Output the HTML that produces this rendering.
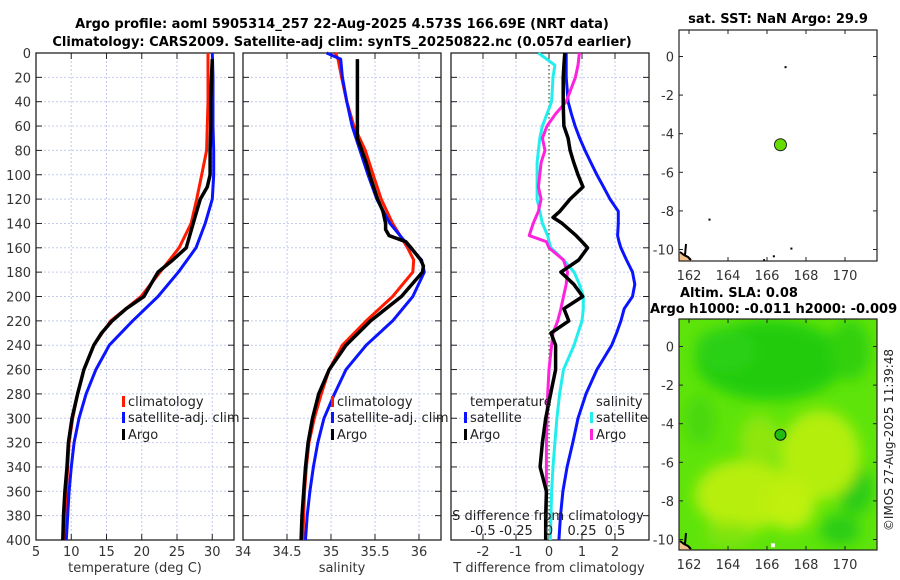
<!DOCTYPE html>
<html><head><meta charset="utf-8"><style>
html,body{margin:0;padding:0;background:#fff;}
svg{display:block;font-family:"DejaVu Sans","Liberation Sans",sans-serif;}
</style></head><body>
<svg id="chart" width="900" height="580" viewBox="0 0 900 580" xmlns="http://www.w3.org/2000/svg">
<defs>
<filter id="blur" x="-20%" y="-20%" width="140%" height="140%"><feGaussianBlur stdDeviation="7"/></filter>
<clipPath id="map2clip"><rect x="679" y="319" width="198" height="231"/></clipPath>
</defs>
<text x="342" y="28" text-anchor="middle" font-size="13" font-weight="bold">Argo profile: aoml 5905314_257 22-Aug-2025 4.573S 166.69E (NRT data)</text>
<text x="342" y="46" text-anchor="middle" font-size="13" font-weight="bold">Climatology: CARS2009. Satellite-adj clim: synTS_20250822.nc (0.057d earlier)</text>
<g id="p1"></g>
<g id="p2"></g>
<g id="p3"></g>
<g id="m1"></g>
<g id="m2"></g>
<text transform="translate(893,440) rotate(-90)" text-anchor="middle" font-size="12" fill="#222">©IMOS 27-Aug-2025 11:39:48</text>
</svg>
<script>
// ---- data ----
const tempDepths = [0,20,40,60,80,100,120,140,160,180,200,220,240,260,280,300,320,340,360,380,400];
const tempClim   = [29.4,29.4,29.4,29.3,29.2,28.5,27.8,27.0,25.3,22.6,19.9,15.6,13.2,11.8,10.9,10.2,9.7,9.5,9.3,9.2,9.1];
const tempSat    = [30.0,30.1,30.1,30.1,30.2,30.2,30.0,29.0,27.7,25.2,22.3,18.7,15.4,13.5,12.1,11.1,10.4,10.0,9.7,9.5,9.3];
const argoDepths = [5,20,40,60,80,100,110,120,130,140,150,160,170,180,190,200,210,220,230,240,260,280,300,320,340,360,380,400];
const tempArgo   = [30.0,29.9,29.8,29.8,29.7,29.7,29.3,28.3,27.8,27.3,26.8,26.3,24.4,22.3,21.3,20.3,17.8,15.8,14.3,13.2,11.8,10.9,10.1,9.6,9.4,9.1,8.9,8.8];
const salDepths  = [0,5,20,40,60,80,100,120,140,160,170,180,200,220,240,260,280,300,320,340,360,380,400];
const salClim    = [35.05,35.08,35.12,35.18,35.26,35.39,35.48,35.57,35.70,35.87,35.94,35.93,35.70,35.40,35.13,34.98,34.89,34.81,34.75,34.72,34.70,34.69,34.68];
const salSat     = [34.95,35.11,35.13,35.18,35.24,35.33,35.42,35.52,35.67,35.90,36.03,36.06,35.93,35.70,35.40,35.17,35.04,34.92,34.85,34.80,34.76,34.73,34.71];
const salArgoDepths = [5,20,40,60,70,80,90,100,120,130,140,145,150,155,160,170,175,180,200,220,240,260,280,300,320,340,360,380,400];
const salArgo    = [35.30,35.30,35.30,35.30,35.30,35.35,35.40,35.44,35.53,35.59,35.62,35.62,35.66,35.85,35.91,36.02,36.05,36.04,35.80,35.45,35.17,34.98,34.86,34.79,34.74,34.71,34.69,34.67,34.66];
const dDepths    = [0,10,20,40,50,60,70,80,90,100,110,120,130,135,140,150,155,160,170,180,190,200,210,220,230,240,260,280,300,320,340,360,380,400];
const dTsat      = [0.52,0.52,0.52,0.58,0.68,0.79,0.93,1.09,1.27,1.45,1.65,1.85,2.1,2.1,2.1,2.08,2.12,2.18,2.35,2.53,2.6,2.53,2.28,2.18,2.05,1.9,1.45,1.12,0.88,0.72,0.55,0.42,0.35,0.3];
const dTargo     = [0.48,0.45,0.43,0.43,0.44,0.45,0.58,0.64,0.75,0.88,1.03,0.64,0.33,0.12,0.4,0.82,1.0,1.17,0.9,0.36,0.75,1.02,0.45,0.6,0.06,0.2,0.2,0.05,-0.1,-0.2,-0.27,-0.08,-0.1,-0.1];
const dSsat      = [-0.08,0.045,0.03,0.02,-0.015,-0.05,-0.07,-0.08,-0.09,-0.09,-0.09,-0.09,-0.07,-0.06,-0.05,-0.01,0.0,0.015,0.11,0.19,0.23,0.26,0.26,0.25,0.22,0.19,0.11,0.08,0.06,0.045,0.03,0.02,0.015,0.01];
const dSargo     = [0.23,0.22,0.2,0.13,0.05,-0.015,-0.05,-0.03,-0.06,-0.07,-0.08,-0.06,-0.08,-0.1,-0.12,-0.15,-0.02,0.0,0.11,0.14,0.13,0.11,0.09,0.066,0.03,0.02,0.0,-0.01,-0.015,-0.02,-0.02,-0.02,-0.02,-0.025];
const depthTicks = [0,20,40,60,80,100,120,140,160,180,200,220,240,260,280,300,320,340,360,380,400];
const tempTicks  = [5,10,15,20,25,30];
const salTicks   = [34,34.5,35,35.5,36];
const salTickLabels = ["34","34.5","35","35.5","36"];
const dTTicks    = [-2,-1,0,1,2];
const dSTicks    = [-0.5,-0.25,0,0.25,0.5];
const dSTickLabels = ["-0.5","-0.25","0","0.25","0.5"];
const lonTicks   = [162,164,166,168,170];
const latTicks   = [0,-2,-4,-6,-8,-10];
const argoLon = 166.69, argoLat = -4.573;

// ---- helpers ----
const NS = "http://www.w3.org/2000/svg";
function mk(parent, tag, attrs, text){
  const e = document.createElementNS(NS, tag);
  for (const k in attrs) e.setAttribute(k, attrs[k]);
  if (text !== undefined) e.textContent = text;
  parent.appendChild(e); return e;
}
const PT = 53, PB = 540;
const yD = d => PT + d * (PB - PT) / 400;
const xT = v => 36 + (v - 5) * 7.05;
const xS = v => 243 + (v - 34) * 88;
const xDT = v => 549 + v * 33;
const xDS = v => 549 + v * 132;

function frame(g, x0, x1, xTickVals, xf, labels, yLabels){
  const grid = mk(g,'g',{});
  
  
  depthTicks.forEach(d=>{
    mk(grid,'line',{x1:x0,x2:x1,y1:yD(d),y2:yD(d),stroke:'#c4cbef','stroke-width':1,'stroke-dasharray':'2,2'});
  });
  xTickVals.forEach(v=>{
    mk(grid,'line',{x1:xf(v),x2:xf(v),y1:PT,y2:PB,stroke:'#c4cbef','stroke-width':1,'stroke-dasharray':'2,2'});
  });
  depthTicks.forEach(d=>{
    mk(g,'line',{x1:x0,x2:x0+6,y1:yD(d),y2:yD(d),stroke:'#222'});
    mk(g,'line',{x1:x1-6,x2:x1,y1:yD(d),y2:yD(d),stroke:'#222'});
    if (yLabels){
      const t = mk(g,'text',{x:x0-5,y:yD(d)+5,'text-anchor':'end','font-size':13,fill:'#333'}, String(d));
      
      
    }
  });
  xTickVals.forEach((v,i)=>{
    mk(g,'line',{x1:xf(v),x2:xf(v),y1:PB,y2:PB-6,stroke:'#222'});
    mk(g,'line',{x1:xf(v),x2:xf(v),y1:PT,y2:PT+6,stroke:'#222'});
    if (labels){
      const t = mk(g,'text',{x:xf(v),y:556,'text-anchor':'middle','font-size':13,fill:'#333'}, labels[i]);
      
      
    }
  });
  const r = mk(g,'rect',{x:x0,y:PT,width:x1-x0,height:PB-PT,fill:'none',stroke:'#222','stroke-width':1.3});
  
  
}
function line(g, depths, vals, xf, color, w, name){
  const pts = depths.map((d,i)=> xf(vals[i]).toFixed(1)+','+yD(d).toFixed(1)).join(' ');
  const p = mk(g,'polyline',{points:pts,fill:'none',stroke:color,'stroke-width':w,'stroke-linejoin':'round'});
  
  
}
function legend(g, x, y, color, label){
  mk(g,'rect',{x:x-6,y:y-10,width:3,height:11,fill:color});
  const t = mk(g,'text',{x:x,y:y,'font-size':13,fill:'#222'}, label);
  
  
}

// ---- panel 1 ----
const p1 = document.getElementById('p1');
frame(p1, 36, 234, tempTicks, xT, tempTicks.map(String), true);
line(p1, tempDepths, tempClim, xT, '#ff1a00', 3, 'temp-climatology-line');
line(p1, tempDepths, tempSat, xT, '#0a14ff', 3, 'temp-satellite-line');
line(p1, argoDepths, tempArgo, xT, '#000', 3.5, 'temp-argo-line');
legend(p1, 128, 406, '#ff1a00', 'climatology');
legend(p1, 128, 422, '#0a14ff', 'satellite-adj. clim');
legend(p1, 128, 439, '#000', 'Argo');
let t = mk(p1,'text',{x:135,y:572,'text-anchor':'middle','font-size':13,fill:'#333'},'temperature (deg C)');
 

// ---- panel 2 ----
const p2 = document.getElementById('p2');
frame(p2, 243, 441, salTicks, xS, salTickLabels, false);
line(p2, salDepths, salClim, xS, '#ff1a00', 3, 'sal-climatology-line');
line(p2, salDepths, salSat, xS, '#0a14ff', 3, 'sal-satellite-line');
line(p2, salArgoDepths, salArgo, xS, '#000', 3.5, 'sal-argo-line');
legend(p2, 337, 406, '#ff1a00', 'climatology');
legend(p2, 337, 422, '#0a14ff', 'satellite-adj. clim');
legend(p2, 337, 439, '#000', 'Argo');
t = mk(p2,'text',{x:342,y:572,'text-anchor':'middle','font-size':13,fill:'#333'},'salinity');
 

// ---- panel 3 ----
const p3 = document.getElementById('p3');
frame(p3, 451, 649, dTTicks, xDT, dTTicks.map(String), false);
const zl = mk(p3,'line',{x1:549,x2:549,y1:PT,y2:PB,stroke:'#445522','stroke-width':1.2,'stroke-dasharray':'1.5,2.5'});
 
line(p3, dDepths, dTsat, xDT, '#0a14ff', 3, 'dT-satellite-line');
line(p3, dDepths, dSsat, xDS, '#22eeee', 3, 'dS-satellite-line');
line(p3, dDepths, dSargo, xDS, '#ff22dd', 3, 'dS-argo-line');
line(p3, dDepths, dTargo, xDT, '#000', 3.5, 'dT-argo-line');
t = mk(p3,'text',{x:470,y:406,'font-size':13,fill:'#222'},'temperature');
 
legend(p3, 470, 422, '#0a14ff', 'satellite');
legend(p3, 470, 439, '#000', 'Argo');
t = mk(p3,'text',{x:596,y:406,'font-size':13,fill:'#222'},'salinity');
 
legend(p3, 596, 422, '#22eeee', 'satellite');
legend(p3, 596, 439, '#ff22dd', 'Argo');
t = mk(p3,'text',{x:548,y:520,'text-anchor':'middle','font-size':13,fill:'#222'},'S difference from climatology');
 
dSTicks.forEach((v,i)=>{
  const e = mk(p3,'text',{x:xDS(v),y:535,'text-anchor':'middle','font-size':13,fill:'#222'}, dSTickLabels[i]);
  
  
});
t = mk(p3,'text',{x:549,y:572,'text-anchor':'middle','font-size':13,fill:'#333'},'T difference from climatology');
 

// ---- maps ----
function mapAxes(g, top, bottom, lat0y){
  const xL = v => 689 + (v-162)*19.5;
  const yL = v => lat0y - v*19.3;
  lonTicks.forEach(v=>{
    mk(g,'line',{x1:xL(v),x2:xL(v),y1:bottom,y2:bottom-4,stroke:'#222'});
    mk(g,'line',{x1:xL(v),x2:xL(v),y1:top,y2:top+4,stroke:'#222'});
    const e = mk(g,'text',{x:xL(v),y:bottom+19,'text-anchor':'middle','font-size':13,fill:'#333'}, String(v));
    
    
  });
  latTicks.forEach(v=>{
    mk(g,'line',{x1:679,x2:683,y1:yL(v),y2:yL(v),stroke:'#222'});
    mk(g,'line',{x1:873,x2:877,y1:yL(v),y2:yL(v),stroke:'#222'});
    const e = mk(g,'text',{x:674,y:yL(v)+5,'text-anchor':'end','font-size':13,fill:'#333'}, String(v));
    
    
  });
  return [xL, yL];
}
function coast(g, bottom){
  mk(g,'path',{d:`M679 ${bottom-8} L686 ${bottom-5} L690 ${bottom} L679 ${bottom} Z`,fill:'#f2c08a'});
  mk(g,'path',{d:`M680 ${bottom-9} L684 ${bottom-6} L688 ${bottom-4} L691 ${bottom-1} M685 ${bottom-6} L686 ${bottom-17}`,stroke:'#000','stroke-width':2,fill:'none'});
}
const m1 = document.getElementById('m1');
t = mk(m1,'text',{x:778,y:23,'text-anchor':'middle','font-size':13,'font-weight':'bold'},'sat. SST: NaN Argo: 29.9');
 
mk(m1,'rect',{x:679,y:30,width:198,height:231,fill:'#fff'});
let ax = mapAxes(m1, 30, 261, 56.5);
coast(m1, 261);
[[166.9,-0.5],[163,-8.4],[167.2,-9.9],[166.3,-10.3],[165.8,-10.5]].forEach(p=>mk(m1,'rect',{x:ax[0](p[0]),y:ax[1](p[1]),width:2,height:2,fill:'#000'}));
let dot = mk(m1,'circle',{cx:ax[0](argoLon),cy:ax[1](argoLat),r:6,fill:'#66dd00',stroke:'#222','stroke-width':1});
 
mk(m1,'rect',{x:679,y:30,width:198,height:231,fill:'none',stroke:'#222','stroke-width':1.2});

const m2 = document.getElementById('m2');
t = mk(m2,'text',{x:680,y:297,'font-size':13,'font-weight':'bold'},'Altim. SLA: 0.08');
 
t = mk(m2,'text',{x:650,y:313,'font-size':13,'font-weight':'bold'},'Argo h1000: -0.011 h2000: -0.009');
 
const field = mk(m2,'g',{'clip-path':'url(#map2clip)'});
 
mk(field,'rect',{x:679,y:319,width:198,height:231,fill:'#5ee40a'});
const blobs = mk(field,'g',{filter:'url(#blur)'});
[[770,360,75,40,'#22cc11'],[725,350,30,22,'#2ad012'],[850,350,20,30,'#33d00f'],[855,490,18,25,'#2ccc12'],[840,530,20,15,'#2ccc12'],[700,420,15,25,'#4ad80c'],
 [820,455,40,45,'#b4ee10'],[745,495,50,35,'#b8ee10'],[790,505,25,25,'#c0f010'],[760,440,20,25,'#8ee60d'],[730,535,25,12,'#80e40d']].forEach(b=>{
  mk(blobs,'ellipse',{cx:b[0],cy:b[1],rx:b[2],ry:b[3],fill:b[4]});
});
ax = mapAxes(m2, 319, 550, 346.5);
coast(m2, 550);
mk(m2,'rect',{x:ax[0](166.2),y:ax[1](-10.3)-2,width:4,height:4,fill:'#fff'});
dot = mk(m2,'circle',{cx:ax[0](argoLon),cy:ax[1](argoLat),r:5.5,fill:'#22bb11',stroke:'#111','stroke-width':1});
 
mk(m2,'rect',{x:679,y:319,width:198,height:231,fill:'none',stroke:'#222','stroke-width':1.2});
</script>
</body></html>
